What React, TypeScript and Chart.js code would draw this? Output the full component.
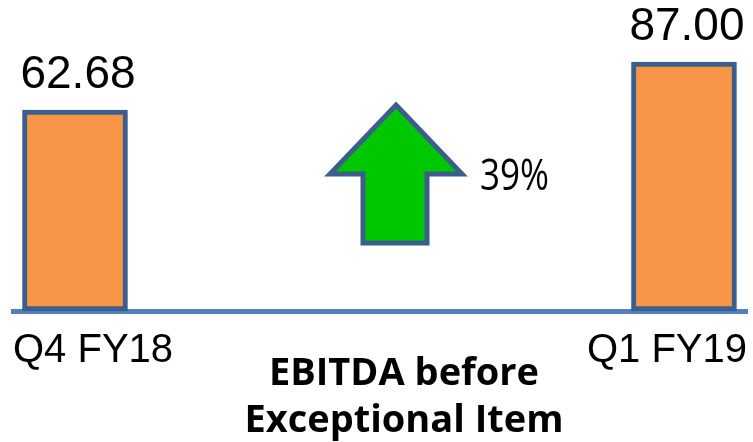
import React, { useEffect, useRef } from "react";
import { Chart, registerables } from "chart.js";

Chart.register(...registerables);

// ---- data ----
const categories: string[] = ["Q4 FY18", "Q1 FY19"];
const values: number[] = [62.68, 87.0];
const titleLines: string[] = ["EBITDA before", "Exceptional Item"];

// ---- scale ranges (layout) ----
const Y_MIN = -39.16;
const Y_MAX = 118.41;
const X_MIN = -0.1018;
const X_MAX = 1.1035;

const overlayPlugin = {
  id: "overlay",
  afterDatasetsDraw(chart: any) {
    const ctx: CanvasRenderingContext2D = chart.ctx;
    const meta = chart.getDatasetMeta(0);
    ctx.save();

    // value labels above bars
    ctx.fillStyle = "#000";
    ctx.font = "46px 'Liberation Sans', Arial, sans-serif";
    ctx.textAlign = "center";
    ctx.textBaseline = "alphabetic";
    meta.data.forEach((bar: any, i: number) => {
      ctx.fillText(values[i].toFixed(2), bar.x + 3, bar.y - 22);
    });

    // growth arrow
    ctx.beginPath();
    ctx.moveTo(396, 105);
    ctx.lineTo(462, 174);
    ctx.lineTo(427, 174);
    ctx.lineTo(427, 243);
    ctx.lineTo(363, 243);
    ctx.lineTo(363, 174);
    ctx.lineTo(330, 174);
    ctx.closePath();
    ctx.fillStyle = "#00C800";
    ctx.fill();
    ctx.lineWidth = 5;
    ctx.lineJoin = "miter";
    ctx.strokeStyle = "#3B5E8C";
    ctx.stroke();

    // growth percentage (narrow face)
    const pct = Math.round(((values[1] - values[0]) / values[0]) * 100);
    const pctText = pct + "%";
    ctx.fillStyle = "#000";
    ctx.font = "43px 'Open Sans', sans-serif";
    ctx.textAlign = "left";
    const w = ctx.measureText(pctText).width;
    const sx = Math.min(1, 69 / w);
    ctx.save();
    ctx.translate(480, 190);
    ctx.scale(sx, 1);
    ctx.fillText(pctText, 0, 0);
    ctx.restore();

    // title
    ctx.font = "bold 38px 'Open Sans', sans-serif";
    ctx.textAlign = "center";
    ctx.fillText(titleLines[0], 404, 385);
    ctx.fillText(titleLines[1], 404, 432);

    ctx.restore();
  },
};

export default function App() {
  const canvasRef = useRef<HTMLCanvasElement | null>(null);

  useEffect(() => {
    document.body.style.margin = "0";
    const canvas = canvasRef.current;
    if (!canvas) return;
    const chart = new Chart(canvas, {
      type: "bar",
      data: {
        datasets: [
          {
            data: values.map((v, i) => ({ x: i, y: v })),
            backgroundColor: "#F79646",
            borderColor: "#3B5E8C",
            borderWidth: 5,
            borderSkipped: false,
            barThickness: 105,
            base: Y_MIN,
            clip: false as any,
          } as any,
        ],
      },
      options: {
        animation: false,
        responsive: true,
        maintainAspectRatio: false,
        layout: { padding: { left: 13, right: 6, top: 0, bottom: 0 } },
        plugins: {
          legend: { display: false },
          tooltip: { enabled: false },
          title: { display: false },
        },
        scales: {
          x: {
            type: "linear",
            offset: false,
            min: X_MIN,
            max: X_MAX,
            grid: { display: false, drawTicks: true, tickLength: 16, offset: false },
            border: { display: true, color: "#4F81BD", width: 5 },
            afterBuildTicks: (scale: any) => {
              scale.ticks = [{ value: X_MIN }, { value: X_MAX }];
            },
            afterFit: (scale: any) => {
              scale.height = 131;
            },
            ticks: {
              align: "inner",
              padding: 0,
              color: "#000",
              autoSkip: false,
              maxRotation: 0,
              font: { family: "'Liberation Sans', Arial, sans-serif", size: 40 },
              callback: (_v: any, i: number) => categories[i],
            },
          },
          y: {
            display: false,
            min: Y_MIN,
            max: Y_MAX,
          },
        },
      } as any,
      plugins: [overlayPlugin],
    });
    return () => chart.destroy();
  }, []);

  return (
    <div style={{ width: 753, height: 442, position: "relative" }}>
      <canvas ref={canvasRef} />
    </div>
  );
}
